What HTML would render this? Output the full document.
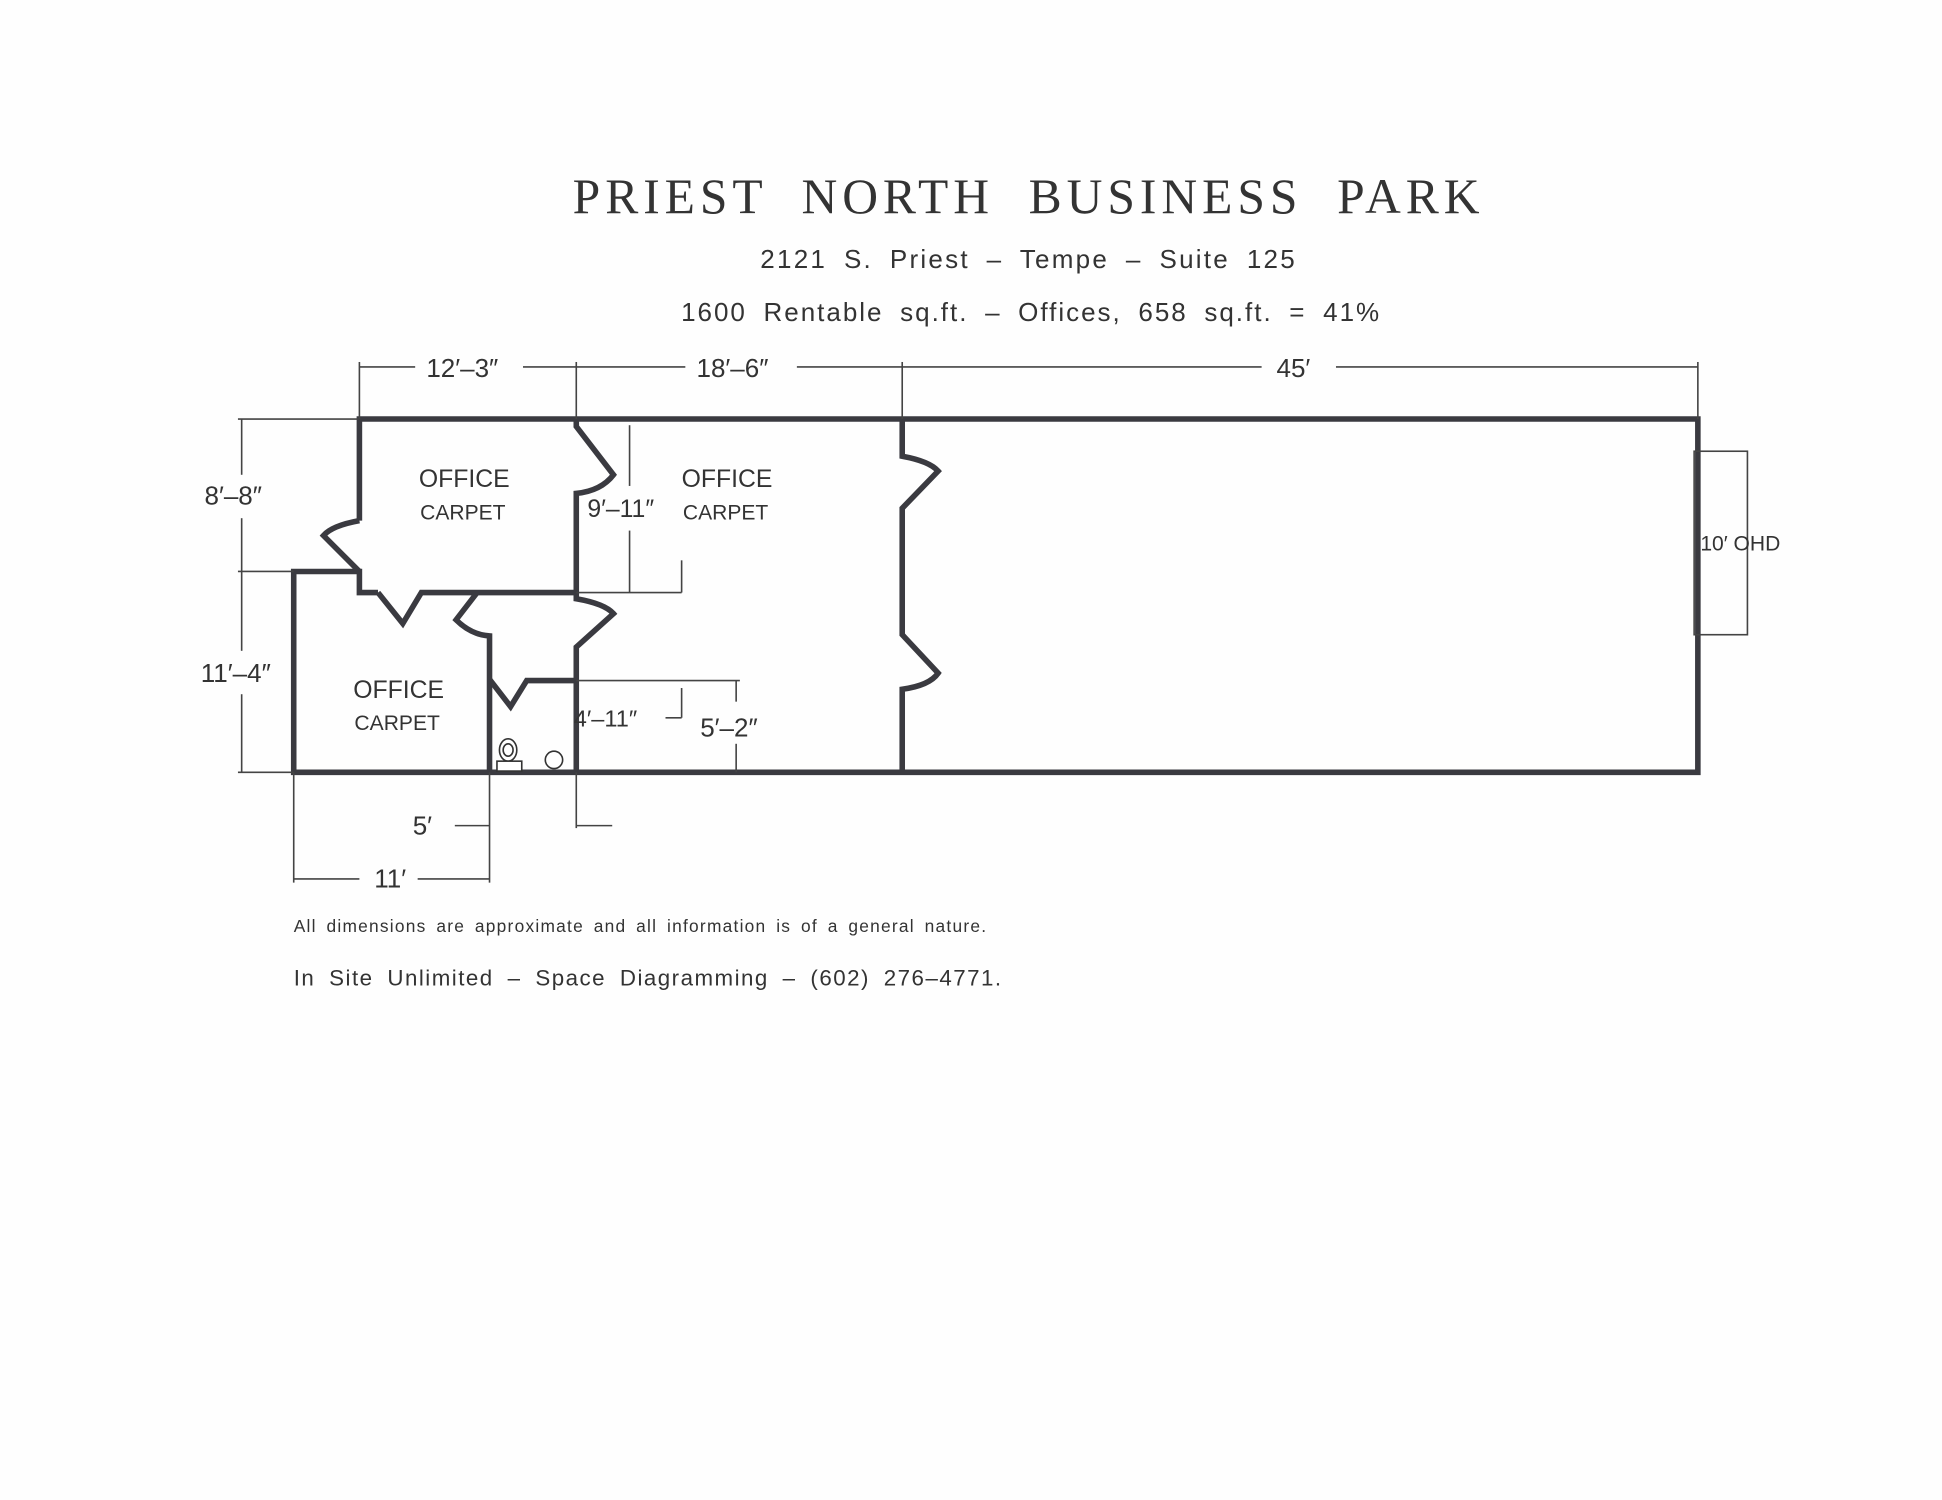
<!DOCTYPE html>
<html><head><meta charset="utf-8"><style>
html,body{margin:0;padding:0;background:#fff}
svg{display:block}
text{font-family:"Liberation Sans",sans-serif;fill:#333}
</style></head><body>
<svg width="1942" height="1500" viewBox="0 0 1567 1210" preserveAspectRatio="none">
<rect x="0" y="0" width="1567" height="1210" fill="#fefefe"/>
<text x="830" y="172" text-anchor="middle" style="font-family:'Liberation Serif',serif" font-size="40" letter-spacing="4" word-spacing="14" fill="#333">PRIEST NORTH BUSINESS PARK</text>
<text x="830" y="216" text-anchor="middle" font-size="21" letter-spacing="1.8" word-spacing="6">2121 S. Priest  –  Tempe  –  Suite 125</text>
<text x="832" y="259" text-anchor="middle" font-size="21" letter-spacing="1.6" word-spacing="6">1600 Rentable sq.ft.  –  Offices, 658 sq.ft. = 41%</text>

<g stroke="#3a3a40" stroke-width="4.5" fill="none" stroke-linejoin="miter">
<polyline points="290,420 290,338 1370,338 1370,623 237,623 237,461 290,461 290,478 305,478"/>
<path d="M290,420 Q268,424 261,432 L290,461"/>
<path d="M305,478 L325,503 L340,478 L465,478"/>
<path d="M465,338 L465,344 L495,383 Q485,396 465,398 L465,478 L465,483 Q488,487 495,495 L465,522 L465,623"/>
<path d="M385,478 L368,500 Q380,512 395,513 L395,623"/>
<path d="M395,548 L412,570 L425,549 L465,549"/>
<path d="M728,338 L728,368 Q750,372 757,380 L728,410 L728,512 L757,543 Q750,553 728,556 L728,623"/>
</g>

<g stroke="#444" stroke-width="1.3" fill="none">
<rect x="1367" y="364" width="43" height="148"/>
<line x1="290" y1="296" x2="335" y2="296"/><line x1="422" y1="296" x2="465" y2="296"/>
<line x1="465" y1="296" x2="553" y2="296"/><line x1="643" y1="296" x2="728" y2="296"/>
<line x1="728" y1="296" x2="1018" y2="296"/><line x1="1078" y1="296" x2="1370" y2="296"/>
<line x1="290" y1="292" x2="290" y2="338"/><line x1="465" y1="292" x2="465" y2="338"/>
<line x1="728" y1="292" x2="728" y2="338"/><line x1="1370" y1="292" x2="1370" y2="338"/>
<line x1="192" y1="338" x2="290" y2="338"/><line x1="192" y1="461" x2="237" y2="461"/><line x1="192" y1="623" x2="237" y2="623"/>
<line x1="195" y1="338" x2="195" y2="383"/><line x1="195" y1="418" x2="195" y2="461"/>
<line x1="195" y1="461" x2="195" y2="525"/><line x1="195" y1="560" x2="195" y2="623"/>
<line x1="508" y1="343" x2="508" y2="392"/><line x1="508" y1="428" x2="508" y2="478"/>
<line x1="465" y1="478" x2="550" y2="478"/><line x1="550" y1="452" x2="550" y2="478"/>
<line x1="465" y1="549" x2="597" y2="549"/><line x1="550" y1="555" x2="550" y2="579"/><line x1="537" y1="579" x2="550" y2="579"/>
<line x1="594" y1="549" x2="594" y2="566"/><line x1="594" y1="600" x2="594" y2="623"/>
<line x1="237" y1="623" x2="237" y2="712"/><line x1="395" y1="623" x2="395" y2="712"/><line x1="465" y1="623" x2="465" y2="668"/>
<line x1="367" y1="666" x2="395" y2="666"/><line x1="465" y1="666" x2="494" y2="666"/>
<line x1="237" y1="709" x2="290" y2="709"/><line x1="337" y1="709" x2="395" y2="709"/>
</g>

<g fill="#333" stroke="none" font-size="21">
<text x="344" y="304">12′–3″</text>
<text x="562" y="304">18′–6″</text>
<text x="1030" y="304">45′</text>
<text x="165" y="407">8′–8″</text>
<text x="162" y="550">11′–4″</text>
<text x="474" y="417" font-size="20">9′–11″</text>
<text x="463" y="586" font-size="19">4′–11″</text>
<text x="565" y="594">5′–2″</text>
<text x="333" y="673">5′</text>
<text x="302" y="716">11′</text>
<text x="1372" y="444" font-size="17">10′  OHD</text>
</g>
<g font-size="20">
<text x="338" y="393">OFFICE</text><text x="339" y="419" font-size="17">CARPET</text>
<text x="550" y="393">OFFICE</text><text x="551" y="419" font-size="17">CARPET</text>
<text x="285" y="563">OFFICE</text><text x="286" y="589" font-size="17">CARPET</text>
</g>
<g stroke="#333" stroke-width="1.3" fill="#fff">
<ellipse cx="410" cy="605" rx="7" ry="9"/><ellipse cx="410" cy="605" rx="4" ry="5"/>
<rect x="401" y="614" width="20" height="8"/>
<circle cx="447" cy="613" r="7"/>
</g>
<text x="237" y="752" font-size="14" letter-spacing="1" word-spacing="3">All dimensions are approximate and all information is of a general nature.</text>
<text x="237" y="795" font-size="18" letter-spacing="1.2" word-spacing="5">In Site Unlimited – Space Diagramming – (602) 276–4771.</text>
</svg>
</body></html>
